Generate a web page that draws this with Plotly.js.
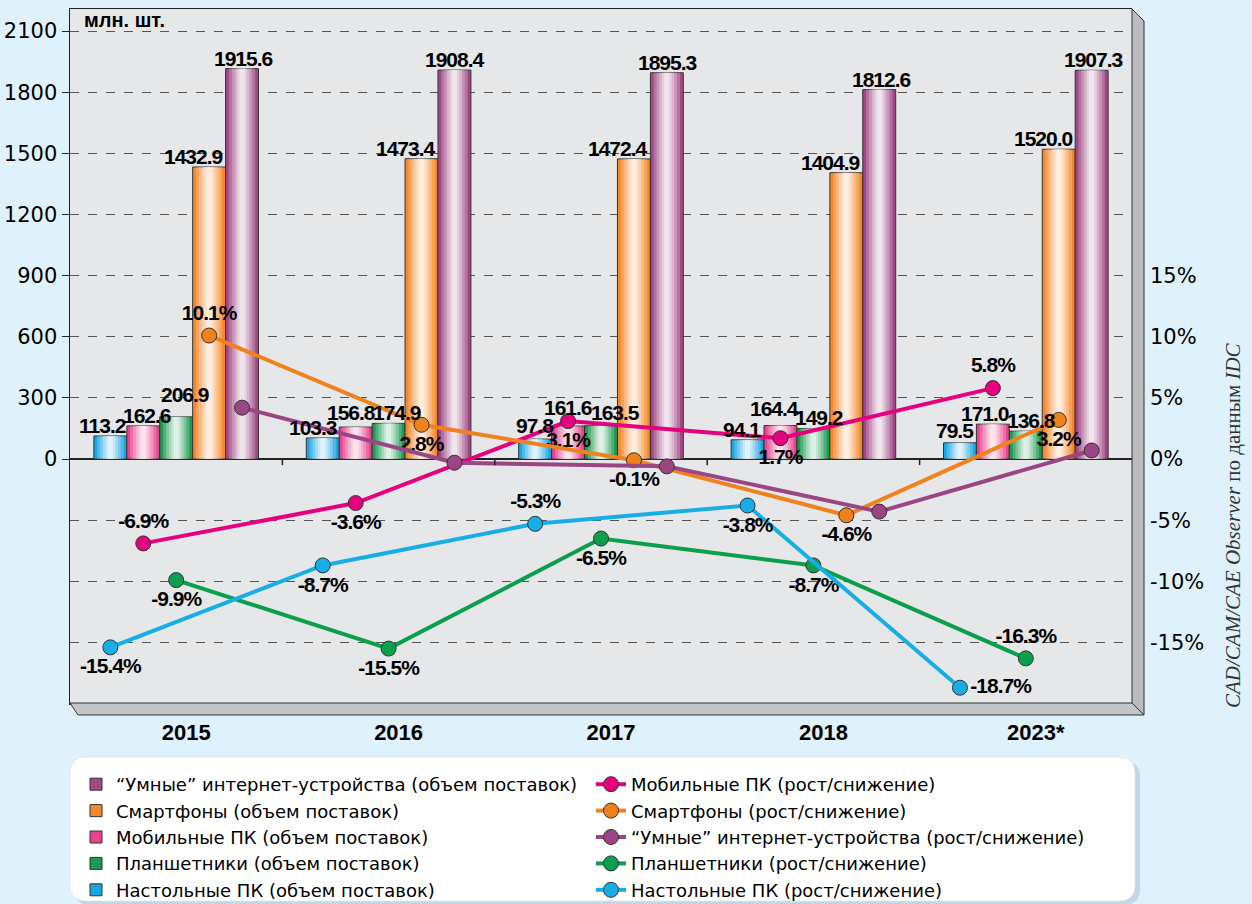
<!DOCTYPE html>
<html><head><meta charset="utf-8">
<script src="https://cdn.plot.ly/plotly-3.0.1.min.js"></script>
<style>
body{margin:0;background:#dff1fb}
text[style*="Helvetica"]{letter-spacing:-1px}
</style>
</head><body><div id="chart" style="width:1252px;height:904px"></div>
<script>
// ---- data ----
const years = ['2015', '2016', '2017', '2018', '2023*'];
const desktopVol = [113.2, 103.3, 97.8, 94.1, 79.5];
const mobileVol  = [162.6, 156.8, 161.6, 164.4, 171.0];
const tabletVol  = [206.9, 174.9, 163.5, 149.2, 136.8];
const phoneVol   = [1432.9, 1473.4, 1472.4, 1404.9, 1520.0];
const smartVol   = [1915.6, 1908.4, 1895.3, 1812.6, 1907.3];
const mobileGr   = [-6.9, -3.6, 3.1, 1.7, 5.8];
const phoneGr    = [10.1, 2.8, -0.1, -4.6, 3.2];
const smartGr    = [4.2, -0.3, -0.6, -4.3, 0.7];
const tabletGr   = [-9.9, -15.5, -6.5, -8.7, -16.3];
const desktopGr  = [-15.4, -8.7, -5.3, -3.8, -18.7];
const leftTicks  = [0, 300, 600, 900, 1200, 1500, 1800, 2100];
const rightTicks = [-20, -15, -10, -5, 0, 5, 10, 15];

// ---- font detection ----
function hasFont(name) {
  const c = document.createElement('canvas').getContext('2d');
  const s = 'абвгдеж 1234567890 Mobile WWmmii';
  let diff = false;
  ['monospace', 'serif'].forEach(fb => {
    c.font = '40px ' + fb; const a = c.measureText(s).width;
    c.font = '40px "' + name + '", ' + fb; const b = c.measureText(s).width;
    if (Math.abs(a - b) > 0.5) diff = true;
  });
  return diff;
}
const dejavu = hasFont('DejaVu Sans');
const lblFont = {family: '"Liberation Sans", Arial, Helvetica, sans-serif', size: 21, color: '#000', weight: 'bold'};
const wideFam = dejavu ? '"DejaVu Sans", "Liberation Sans", Arial, sans-serif' : '"Liberation Sans", Arial, sans-serif';

// ---- geometry helpers ----
const L = 70, R = 1132, T = 9, B = 703;
const px = p => (p - L) / (R - L);
const py = p => (B - p) / (B - T);
const W = 0.155;
const cats = years.map((_, i) => i);

const barSeries = [
  {name: 'Настольные ПК (объем поставок)', y: desktopVol, color: '#1aa6e2', slot: -2, rank: 9,
   anchor: 'center', shift: [-8, -10, 0, -6, -5], lift: [0, 0, 3, 0, 2]},
  {name: 'Мобильные ПК (объем поставок)', y: mobileVol, color: '#e8448e', slot: -1, rank: 5,
   anchor: 'center', shift: [4, -4, 0, -6, -8], lift: [0, 4, 8, 7, 0]},
  {name: 'Планшетники (объем поставок)', y: tabletVol, color: '#1b9a51', slot: 0, rank: 7,
   anchor: 'center', shift: [9, 8, 14, 6, 6], lift: [12, 0, 3, 1, 0]},
  {name: 'Смартфоны (объем поставок)', y: phoneVol, color: '#f5882a', slot: 1, rank: 3,
   anchor: 'right', shift: [16, 16, 16, 16, 16], lift: [0, 0, 0, 0, 0]},
  {name: '“Умные” интернет-устройства (объем поставок)', y: smartVol, color: '#a14985', slot: 2, rank: 1,
   anchor: 'center', shift: [1, 1, 1, 2, 2], lift: [0, 0, 0, 0, 0]}
];
const lineSeries = [
  {name: 'Мобильные ПК (рост/снижение)', y: mobileGr, color: '#e5007d', slot: -1, rank: 2,
   pos: ['top center', 'bottom center', 'bottom center', 'bottom center', 'top center'], labels: true},
  {name: 'Смартфоны (рост/снижение)', y: phoneGr, color: '#f0821e', slot: 1, rank: 4,
   pos: ['top center', 'bottom center', 'bottom center', 'bottom center', 'bottom center'], labels: true},
  {name: '“Умные” интернет-устройства (рост/снижение)', y: smartGr, color: '#9c4585', slot: 2, rank: 6,
   pos: null, labels: false},
  {name: 'Планшетники (рост/снижение)', y: tabletGr, color: '#0a9f4c', slot: 0, rank: 8,
   pos: ['bottom center', 'bottom center', 'bottom center', 'bottom center', 'top center'], labels: true},
  {name: 'Настольные ПК (рост/снижение)', y: desktopGr, color: '#17aee8', slot: -2, rank: 10,
   pos: ['bottom center', 'bottom center', 'top center', 'bottom center', 'middle right'], labels: true}
];

const traces = [];
const annotations = [];
const sheen = [[0.8, 0.22], [0.62, 0.25], [0.45, 0.3], [0.3, 0.35], [0.16, 0.45]];
barSeries.forEach(s => {
  const xs = cats.map(c => c + s.slot * W);
  traces.push({
    type: 'bar', name: s.name, x: xs, y: s.y, width: W, yaxis: 'y',
    marker: {color: s.color, line: {color: '#333', width: 1}},
    legendrank: s.rank, hoverinfo: 'y'
  });
  sheen.forEach(h => {
    traces.push({
      type: 'bar', x: xs, y: s.y, width: W * h[0], yaxis: 'y', showlegend: false, hoverinfo: 'skip',
      marker: {color: 'rgba(255,255,255,' + h[1] + ')', line: {width: 0}}
    });
  });
  s.y.forEach((v, i) => annotations.push({
    xref: 'x', yref: 'y', x: xs[i], y: v, text: v.toFixed(1), showarrow: false,
    xanchor: s.anchor, yanchor: 'bottom', xshift: s.shift[i], yshift: -3 + s.lift[i], font: lblFont
  }));
});
lineSeries.forEach(s => {
  traces.push({
    type: 'scatter', name: s.name, x: cats.map(c => c + s.slot * W), y: s.y, yaxis: 'y2',
    mode: s.labels ? 'lines+markers+text' : 'lines+markers',
    line: {color: s.color, width: 4},
    marker: {size: 15, color: s.color, line: {color: '#333', width: 1}},
    text: s.labels ? s.y.map(v => v.toFixed(1) + '%') : undefined,
    textposition: s.pos || undefined, textfont: lblFont,
    cliponaxis: false, legendrank: s.rank
  });
});

function rr(x0, y0, x1, y1, r) {
  const X = v => px(v).toFixed(5), Y = v => py(v).toFixed(5);
  return `M ${X(x0 + r)} ${Y(y0)} L ${X(x1 - r)} ${Y(y0)} Q ${X(x1)} ${Y(y0)} ${X(x1)} ${Y(y0 + r)} ` +
    `L ${X(x1)} ${Y(y1 - r)} Q ${X(x1)} ${Y(y1)} ${X(x1 - r)} ${Y(y1)} L ${X(x0 + r)} ${Y(y1)} ` +
    `Q ${X(x0)} ${Y(y1)} ${X(x0)} ${Y(y1 - r)} L ${X(x0)} ${Y(y0 + r)} Q ${X(x0)} ${Y(y0)} ${X(x0 + r)} ${Y(y0)} Z`;
}
function poly(pts) {
  return 'M ' + pts.map(p => px(p[0]).toFixed(5) + ' ' + py(p[1]).toFixed(5)).join(' L ') + ' Z';
}

const shapes = [
  {type: 'path', xref: 'paper', yref: 'paper', path: rr(74, 761, 1140, 905, 16), fillcolor: 'rgba(160,185,200,0.45)', line: {width: 0}},
  {type: 'path', xref: 'paper', yref: 'paper', path: rr(70, 757, 1135, 901, 16), fillcolor: '#ffffff', line: {color: '#e4e8ea', width: 1}},
  {type: 'path', xref: 'paper', yref: 'paper', path: poly([[R, T], [R + 12, T + 12], [R + 12, B + 12], [R, B]]), fillcolor: '#b9bbbe', line: {color: '#333', width: 1}},
  {type: 'path', xref: 'paper', yref: 'paper', path: poly([[L, B], [R, B], [R + 12, B + 12], [L + 8, B + 12]]), fillcolor: '#c3c5c8', line: {color: '#333', width: 1}}
];
[0.5, 1.5, 2.5, 3.5].forEach(b => shapes.push({type: 'line', xref: 'x', yref: 'y', x0: b, x1: b, y0: 0, y1: -30, line: {color: '#222', width: 1.5}}));

annotations.push(
  {xref: 'paper', yref: 'paper', x: px(82), y: 1, xanchor: 'left', yanchor: 'top', yshift: 2, showarrow: false,
   text: 'млн. шт.', font: {family: '"Liberation Sans", Arial, sans-serif', size: 20, weight: 'bold'}},
  {xref: 'paper', yref: 'paper', x: px(1233), y: py(525), xanchor: 'center', yanchor: 'middle', showarrow: false,
   textangle: -90, text: '<i>CAD/CAM/CAE Observer</i> по данным <i>IDC</i>',
   font: {family: '"Liberation Serif", "Times New Roman", serif', size: 21, color: '#333'}}
);

const layout = {
  width: 1252, height: 904,
  paper_bgcolor: '#dff1fb', plot_bgcolor: '#e6e7e9',
  margin: {l: L, r: 1252 - R, t: T, b: 904 - B, autoexpand: false},
  barmode: 'overlay',
  font: {family: '"Liberation Sans", Arial, sans-serif', color: '#000'},
  showlegend: true,
  xaxis: {range: [-0.5, 4.5], tickvals: cats, ticktext: years, showgrid: false, zeroline: false,
    showline: true, mirror: true, linecolor: '#222', linewidth: 1.5, ticks: '',
    tickfont: {family: '"Liberation Sans", Arial, sans-serif', size: 22, weight: 'bold'}, ticklabelshift: 10, ticklabelstandoff: 9},
  yaxis: {range: [-1197, 2208], tickvals: leftTicks, showgrid: true, gridcolor: '#555', griddash: 'dash', gridwidth: 1,
    zeroline: true, zerolinecolor: '#222', zerolinewidth: 1.5, showline: true, linecolor: '#222', linewidth: 1.5,
    ticks: 'outside', ticklen: 7, tickcolor: '#222', tickfont: {family: wideFam, size: 21}},
  yaxis2: {overlaying: 'y', side: 'right', range: [-19.95, 36.8], tickvals: rightTicks,
    ticktext: rightTicks.map(v => v + '%'), showgrid: true, gridcolor: '#555', griddash: 'dash', gridwidth: 1,
    zeroline: false, showline: false, ticks: '', tickfont: {family: wideFam, size: 21}, ticklabelstandoff: 17},
  legend: {orientation: 'h', x: px(76), xanchor: 'left', y: py(766), yanchor: 'top',
    entrywidth: 470, entrywidthmode: 'pixels', bgcolor: 'rgba(0,0,0,0)',
    font: {family: wideFam, size: 18}, traceorder: 'normal'},
  shapes: shapes,
  annotations: annotations
};

Plotly.newPlot('chart', traces, layout, {displayModeBar: false, staticPlot: true});
</script></body></html>
